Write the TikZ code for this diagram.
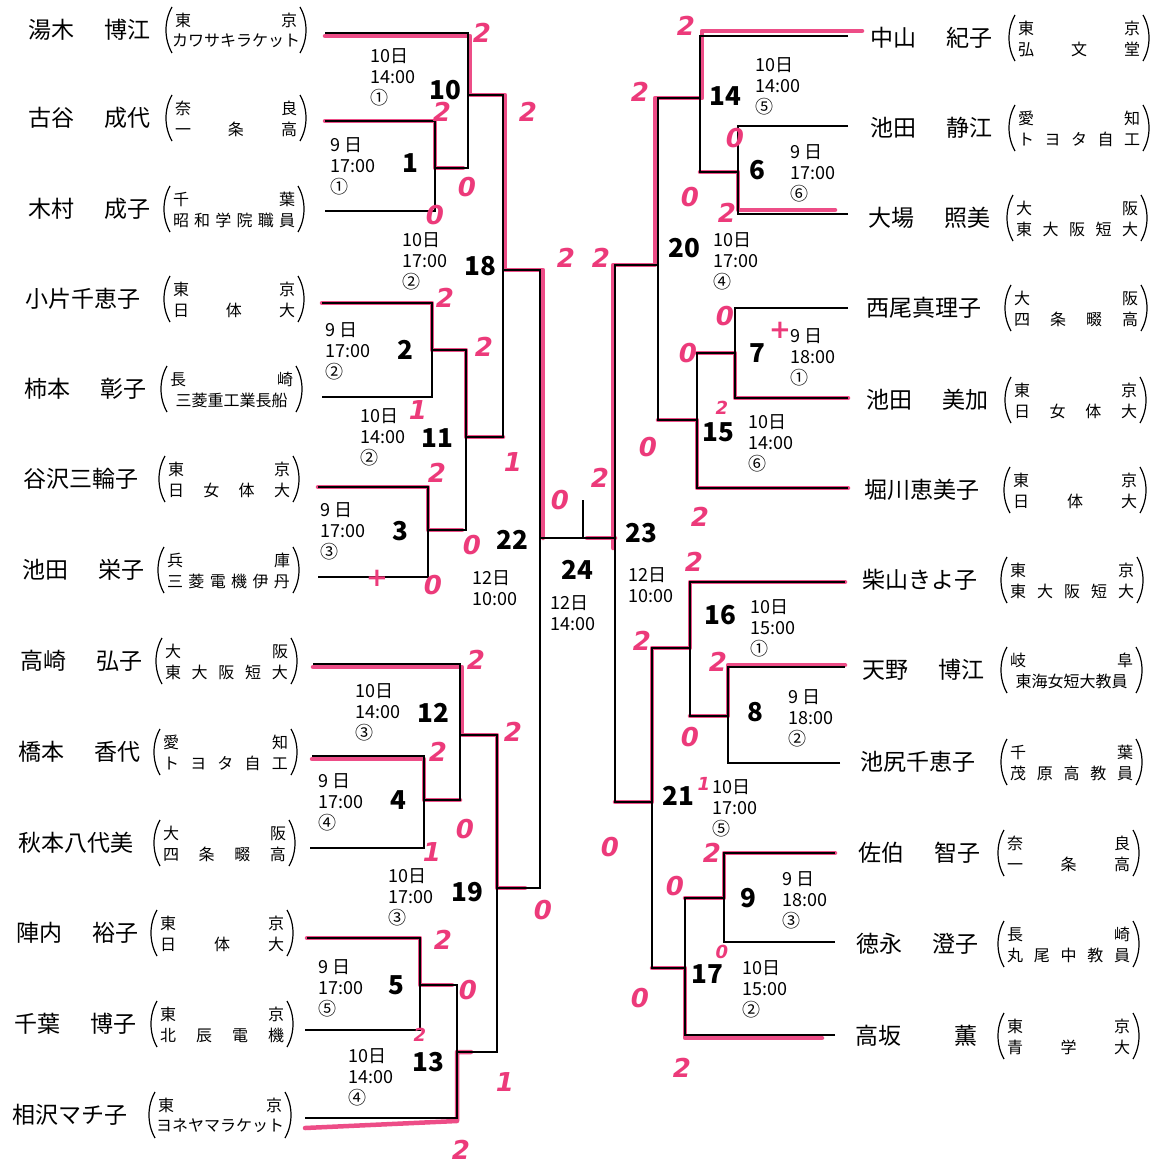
\documentclass[tikz,border=0pt]{standalone}
\usepackage{fontspec}
\setmainfont{Noto Sans CJK JP}
\newfontfamily\handfont{DejaVu Sans}
\usetikzlibrary{calc}
\definecolor{mk}{RGB}{236,58,122}
\newcommand{\mkaff}[7]{%
  \pgfmathsetmacro{\affw}{#3-#2-20}%
  \draw[paren] ({#2+7},{#4-23}) .. controls ({#2-1},{#4-9}) and ({#2-1},{#4+9}) .. ({#2+7},{#4+23});
  \draw[paren] ({#3-7},{#4-23}) .. controls ({#3+1},{#4-9}) and ({#3+1},{#4+9}) .. ({#3-7},{#4+23});
  \node[aff] (#1a) at ({(#2+#3)/2},{#4-10}) {\makebox[\affw pt]{#5\hfill #6}};
  \node[aff] (#1b) at ({(#2+#3)/2},{#4+11}) {\makebox[\affw pt]{#7}};
}
\begin{document}
\begin{tikzpicture}[x=1pt,y=-1pt,
  wire/.style={line width=1.5pt, black},
  pk/.style={line width=4.5pt, mk, opacity=0.9, line join=round, line cap=round},
  paren/.style={line width=1.2pt, black},
  nm/.style={font=\fontsize{23}{23}\selectfont, anchor=west, inner sep=0},
  aff/.style={font=\fontsize{16}{16}\selectfont, inner sep=0},
  tm/.style={font=\fontsize{18}{21}\selectfont, align=left, anchor=west, inner sep=0},
  num/.style={font=\fontsize{26}{26}\selectfont\bfseries, inner sep=0},
  hd/.style={text=mk, font=\handfont\bfseries\itshape\fontsize{26}{26}\selectfont, inner sep=0},
  hds/.style={hd, font=\handfont\bfseries\itshape\fontsize{18}{18}\selectfont}]
\useasboundingbox (0,0) rectangle (1154,1169);
\fill[white] (0,0) rectangle (1154,1169);

% ---------- coordinates: player line starts ----------
\coordinate (pL1) at (325,33);
\coordinate (pL2) at (325,121);
\coordinate (pL3) at (325,211);
\coordinate (pL4) at (322,303);
\coordinate (pL5) at (322,397);
\coordinate (pL6) at (318,487);
\coordinate (pL7) at (318,577);
\coordinate (pL8) at (313,664);
\coordinate (pL9) at (312,756);
\coordinate (pL10) at (310,848);
\coordinate (pL11) at (307,938);
\coordinate (pL12) at (305,1030);
\coordinate (pL13) at (305,1118);
\coordinate (pR1) at (848,36);
\coordinate (pR2) at (848,126);
\coordinate (pR3) at (848,214);
\coordinate (pR4) at (848,308);
\coordinate (pR5) at (848,398);
\coordinate (pR6) at (848,488);
\coordinate (pR7) at (845,582);
\coordinate (pR8) at (845,667);
\coordinate (pR9) at (840,763);
\coordinate (pR10) at (835,853);
\coordinate (pR11) at (835,942);
\coordinate (pR12) at (835,1035);
% ---------- match junctions ----------
\coordinate (m1) at (435,168);
\coordinate (m10) at (468,95);
\coordinate (m2) at (432,350);
\coordinate (m3) at (428,530);
\coordinate (m11) at (466,437);
\coordinate (m18) at (503,270);
\coordinate (m4) at (424,800);
\coordinate (m12) at (460,735);
\coordinate (m5) at (420,985);
\coordinate (m13) at (457,1052);
\coordinate (m19) at (497,888);
\coordinate (m22) at (540,538);
\coordinate (m6) at (738,172);
\coordinate (m14) at (700,98);
\coordinate (m7) at (735,353);
\coordinate (m15) at (697,420);
\coordinate (m20) at (658,265);
\coordinate (m8) at (728,716);
\coordinate (m16) at (690,648);
\coordinate (m9) at (724,898);
\coordinate (m17) at (685,968);
\coordinate (m21) at (652,802);
\coordinate (m23) at (615,538);
\coordinate (tk) at (583,500);

% ---------- pink marker paths ----------
\draw[pk] ([yshift=-3pt]pL1) -| ([xshift=2pt]m10) -| ([xshift=2pt]m18) -| ([xshift=3pt]m22);
\draw[pk] (pL2) -| (m1) -- ++(28,0);
\draw[pk] (pL4) -| (m2) -| (m11) -- (m11 -| m18);
\draw[pk] (pL6) -| (m3) -- ++(34,0);
\draw[pk] ([yshift=-3pt]pL8) -| ([xshift=2pt]m12) -| (m19) -- ++(28,0);
\draw[pk] ([yshift=-3pt]pL9) -| (m4) -- (m4 -| m12);
\draw[pk] (pL11) -| (m5) -- ++(32,0);
\draw[pk] ([yshift=-10pt]pL13) -- ([yshift=-3pt]pL13 -| m13) -- (m13) -- ++(14,0);
\draw[pk] ([xshift=14pt,yshift=5pt]pR1) -| ([xshift=2pt]m14) -| ([xshift=-3pt]m20) -| ([xshift=-2pt]m23) -- ++(0,10);
\draw[pk] (m23) -- ++(-28,0);
\draw[pk] ([xshift=-13pt,yshift=4pt]pR3) -| (m6) -- (m6 -| m14);
\draw[pk] (pR5) -| (m7) -- (m7 -| m15);
\draw[pk] (pR6) -| (m15) -- (m15 -| m20);
\draw[pk] (pR7) -| (m16) -| (m21) -- (m21 -| m23);
\draw[pk] ([yshift=2pt]pR8) -| (m8) -- (m8 -| m16);
\draw[pk] (pR10) -| (m9) -- (m9 -| m17);
\draw[pk] ([xshift=-13pt,yshift=-3pt]pR12) -| (m17) -- (m17 -| m21);

% ---------- black bracket ----------
\draw[wire] (pL1) -| (m10);
\draw[wire] (m1) -| (m10);
\draw[wire] (pL2) -| (m1);
\draw[wire] (pL3) -| (m1);
\draw[wire] (m10) -| (m18);
\draw[wire] (m11) -| (m18);
\draw[wire] (pL4) -| (m2);
\draw[wire] (pL5) -| (m2);
\draw[wire] (pL6) -| (m3);
\draw[wire] (pL7) -| (m3);
\draw[wire] (m2) -| (m11);
\draw[wire] (m3) -| (m11);
\draw[wire] (m18) -| (m22);
\draw[wire] (m19) -| (m22);
\draw[wire] (pL8) -| (m12);
\draw[wire] (m4) -| (m12);
\draw[wire] (pL9) -| (m4);
\draw[wire] (pL10) -| (m4);
\draw[wire] (m12) -| (m19);
\draw[wire] (m13) -| (m19);
\draw[wire] (pL11) -| (m5);
\draw[wire] (pL12) -| (m5);
\draw[wire] (m5) -| (m13);
\draw[wire] (pL13) -| (m13);
\draw[wire] (m22) -- (m23);
\draw[wire] (tk) -- (tk |- m22);
\draw[wire] (pR1) -| (m14);
\draw[wire] (m6) -| (m14);
\draw[wire] (pR2) -| (m6);
\draw[wire] (pR3) -| (m6);
\draw[wire] (m14) -| (m20);
\draw[wire] (m15) -| (m20);
\draw[wire] (pR4) -| (m7);
\draw[wire] (pR5) -| (m7);
\draw[wire] (m7) -| (m15);
\draw[wire] (pR6) -| (m15);
\draw[wire] (m20) -| (m23);
\draw[wire] (m21) -| (m23);
\draw[wire] (pR7) -| (m16);
\draw[wire] (m8) -| (m16);
\draw[wire] (pR8) -| (m8);
\draw[wire] (pR9) -| (m8);
\draw[wire] (m16) -| (m21);
\draw[wire] (m17) -| (m21);
\draw[wire] (pR10) -| (m9);
\draw[wire] (pR11) -| (m9);
\draw[wire] (m9) -| (m17);
\draw[wire] (pR12) -| (m17);

% ---------- left names ----------
\node[nm] (nL1) at (28,30) {\makebox[122pt][l]{湯木\hfill 博江}};
\node[nm] (nL2) at (28,118) {\makebox[122pt][l]{古谷\hfill 成代}};
\node[nm] (nL3) at (28,209) {\makebox[122pt][l]{木村\hfill 成子}};
\node[nm] (nL4) at (25,299) {\makebox[122pt][l]{小片千恵子}};
\node[nm] (nL5) at (24,389) {\makebox[122pt][l]{柿本\hfill 彰子}};
\node[nm] (nL6) at (23,479) {\makebox[122pt][l]{谷沢三輪子}};
\node[nm] (nL7) at (22,570) {\makebox[122pt][l]{池田\hfill 栄子}};
\node[nm] (nL8) at (20,661) {\makebox[122pt][l]{高崎\hfill 弘子}};
\node[nm] (nL9) at (18,752) {\makebox[122pt][l]{橋本\hfill 香代}};
\node[nm] (nL10) at (18,843) {\makebox[122pt][l]{秋本八代美}};
\node[nm] (nL11) at (16,933) {\makebox[122pt][l]{陣内\hfill 裕子}};
\node[nm] (nL12) at (14,1024) {\makebox[122pt][l]{千葉\hfill 博子}};
\node[nm] (nL13) at (12,1115) {\makebox[122pt][l]{相沢マチ子}};
% ---------- left affiliations ----------
\mkaff{fL1}{165}{307}{30}{東}{京}{カワサキラケット}
\mkaff{fL2}{165}{307}{118}{奈}{良}{一\hfill 条\hfill 高}
\mkaff{fL3}{163}{305}{209}{千}{葉}{昭\hfill 和\hfill 学\hfill 院\hfill 職\hfill 員}
\mkaff{fL4}{163}{305}{299}{東}{京}{日\hfill 体\hfill 大}
\mkaff{fL5}{160}{303}{389}{長}{崎}{三菱重工業長船}
\mkaff{fL6}{158}{300}{479}{東}{京}{日\hfill 女\hfill 体\hfill 大}
\mkaff{fL7}{157}{300}{570}{兵}{庫}{三\hfill 菱\hfill 電\hfill 機\hfill 伊\hfill 丹}
\mkaff{fL8}{155}{298}{661}{大}{阪}{東\hfill 大\hfill 阪\hfill 短\hfill 大}
\mkaff{fL9}{153}{298}{752}{愛}{知}{ト\hfill ヨ\hfill タ\hfill 自\hfill 工}
\mkaff{fL10}{153}{296}{843}{大}{阪}{四\hfill 条\hfill 畷\hfill 高}
\mkaff{fL11}{150}{294}{933}{東}{京}{日\hfill 体\hfill 大}
\mkaff{fL12}{150}{294}{1024}{東}{京}{北\hfill 辰\hfill 電\hfill 機}
\mkaff{fL13}{148}{292}{1115}{東}{京}{ヨネヤマラケット}
% ---------- right names ----------
\node[nm] (nR1) at (870,38) {\makebox[122pt][l]{中山\hfill 紀子}};
\node[nm] (nR2) at (870,128) {\makebox[122pt][l]{池田\hfill 静江}};
\node[nm] (nR3) at (868,218) {\makebox[122pt][l]{大場\hfill 照美}};
\node[nm] (nR4) at (866,308) {\makebox[122pt][l]{西尾真理子}};
\node[nm] (nR5) at (866,400) {\makebox[122pt][l]{池田\hfill 美加}};
\node[nm] (nR6) at (864,490) {\makebox[122pt][l]{堀川恵美子}};
\node[nm] (nR7) at (862,580) {\makebox[122pt][l]{柴山きよ子}};
\node[nm] (nR8) at (862,670) {\makebox[122pt][l]{天野\hfill 博江}};
\node[nm] (nR9) at (860,762) {\makebox[122pt][l]{池尻千恵子}};
\node[nm] (nR10) at (858,853) {\makebox[122pt][l]{佐伯\hfill 智子}};
\node[nm] (nR11) at (856,944) {\makebox[122pt][l]{徳永\hfill 澄子}};
\node[nm] (nR12) at (855,1036) {\makebox[122pt][l]{高坂\hfill 薫}};
% ---------- right affiliations ----------
\mkaff{fR1}{1008}{1150}{38}{東}{京}{弘\hfill 文\hfill 堂}
\mkaff{fR2}{1008}{1150}{128}{愛}{知}{ト\hfill ヨ\hfill タ\hfill 自\hfill 工}
\mkaff{fR3}{1006}{1148}{218}{大}{阪}{東\hfill 大\hfill 阪\hfill 短\hfill 大}
\mkaff{fR4}{1004}{1148}{308}{大}{阪}{四\hfill 条\hfill 畷\hfill 高}
\mkaff{fR5}{1004}{1147}{400}{東}{京}{日\hfill 女\hfill 体\hfill 大}
\mkaff{fR6}{1003}{1147}{490}{東}{京}{日\hfill 体\hfill 大}
\mkaff{fR7}{1000}{1144}{580}{東}{京}{東\hfill 大\hfill 阪\hfill 短\hfill 大}
\mkaff{fR8}{1000}{1143}{670}{岐}{阜}{東海女短大教員}
\mkaff{fR9}{1000}{1143}{762}{千}{葉}{茂\hfill 原\hfill 高\hfill 教\hfill 員}
\mkaff{fR10}{997}{1140}{853}{奈}{良}{一\hfill 条\hfill 高}
\mkaff{fR11}{997}{1140}{944}{長}{崎}{丸\hfill 尾\hfill 中\hfill 教\hfill 員}
\mkaff{fR12}{997}{1140}{1036}{東}{京}{青\hfill 学\hfill 大}

% ---------- match numbers ----------
\node[num] (n10) at (445,90) {10};
\node[num] (n1) at (410,163) {1};
\node[num] (n18) at (480,266) {18};
\node[num] (n2) at (405,350) {2};
\node[num] (n11) at (437,438) {11};
\node[num] (n3) at (400,531) {3};
\node[num] (n22) at (512,540) {22};
\node[num] (n12) at (433,713) {12};
\node[num] (n4) at (398,800) {4};
\node[num] (n19) at (467,892) {19};
\node[num] (n5) at (396,985) {5};
\node[num] (n13) at (428,1062) {13};
\node[num] (n24) at (577,570) {24};
\node[num] (n14) at (725,96) {14};
\node[num] (n6) at (757,170) {6};
\node[num] (n20) at (684,248) {20};
\node[num] (n7) at (757,353) {7};
\node[num] (n15) at (718,432) {15};
\node[num] (n23) at (641,533) {23};
\node[num] (n16) at (720,615) {16};
\node[num] (n8) at (755,712) {8};
\node[num] (n21) at (678,796) {21};
\node[num] (n9) at (748,898) {9};
\node[num] (n17) at (707,974) {17};

% ---------- times ----------
\node[tm] (t10) at (370,77) {10日\\14:00\\①};
\node[tm] (t1) at (330,166) {9 日\\17:00\\①};
\node[tm] (t18) at (402,261) {10日\\17:00\\②};
\node[tm] (t2) at (325,351) {9 日\\17:00\\②};
\node[tm] (t11) at (360,437) {10日\\14:00\\②};
\node[tm] (t3) at (320,531) {9 日\\17:00\\③};
\node[tm] (t22) at (472,588) {12日\\10:00};
\node[tm] (t24) at (550,613) {12日\\14:00};
\node[tm] (t12) at (355,712) {10日\\14:00\\③};
\node[tm] (t4) at (318,802) {9 日\\17:00\\④};
\node[tm] (t19) at (388,897) {10日\\17:00\\③};
\node[tm] (t5) at (318,988) {9 日\\17:00\\⑤};
\node[tm] (t13) at (348,1077) {10日\\14:00\\④};
\node[tm] (t14) at (755,86) {10日\\14:00\\⑤};
\node[tm] (t6) at (790,173) {9 日\\17:00\\⑥};
\node[tm] (t20) at (713,261) {10日\\17:00\\④};
\node[tm] (t7) at (790,357) {9 日\\18:00\\①};
\node[tm] (t15) at (748,443) {10日\\14:00\\⑥};
\node[tm] (t23) at (628,585) {12日\\10:00};
\node[tm] (t16) at (750,628) {10日\\15:00\\①};
\node[tm] (t8) at (788,718) {9 日\\18:00\\②};
\node[tm] (t21) at (712,808) {10日\\17:00\\⑤};
\node[tm] (t9) at (782,900) {9 日\\18:00\\③};
\node[tm] (t17) at (742,989) {10日\\15:00\\②};

% ---------- handwritten scores ----------
\node[hd] (h1) at (482,33) {2};
\node[hd] (h2) at (528,112) {2};
\node[hd] (h3) at (442,112) {2};
\node[hd] (h4) at (467,187) {0};
\node[hd] (h5) at (435,215) {0};
\node[hd] (h6) at (445,298) {2};
\node[hd] (h7) at (484,347) {2};
\node[hd] (h8) at (418,410) {1};
\node[hd] (h9) at (513,462) {1};
\node[hd] (h10) at (437,473) {2};
\node[hd] (h11) at (472,545) {0};
\node[hd] (h12) at (377,578) {+};
\node[hd] (h13) at (433,585) {0};
\node[hd] (h14) at (566,258) {2};
\node[hd] (h15) at (601,258) {2};
\node[hd] (h16) at (560,500) {0};
\node[hd] (h17) at (600,478) {2};
\node[hd] (h18) at (476,660) {2};
\node[hd] (h19) at (513,732) {2};
\node[hd] (h20) at (438,752) {2};
\node[hd] (h21) at (465,829) {0};
\node[hd] (h22) at (432,852) {1};
\node[hd] (h23) at (543,910) {0};
\node[hd] (h24) at (443,940) {2};
\node[hd] (h25) at (468,990) {0};
\node[hds] (h26) at (420,1035) {2};
\node[hd] (h27) at (505,1082) {1};
\node[hd] (h28) at (461,1150) {2};
\node[hd] (h29) at (686,26) {2};
\node[hd] (h30) at (640,92) {2};
\node[hd] (h31) at (735,138) {0};
\node[hd] (h32) at (690,197) {0};
\node[hd] (h33) at (727,213) {2};
\node[hd] (h34) at (725,316) {0};
\node[hd] (h35) at (780,330) {+};
\node[hd] (h36) at (688,353) {0};
\node[hds] (h37) at (722,408) {2};
\node[hd] (h38) at (648,447) {0};
\node[hd] (h39) at (700,517) {2};
\node[hd] (h40) at (694,562) {2};
\node[hd] (h41) at (642,641) {2};
\node[hd] (h42) at (718,662) {2};
\node[hd] (h43) at (690,737) {0};
\node[hds] (h44) at (704,784) {1};
\node[hd] (h45) at (610,847) {0};
\node[hd] (h46) at (712,853) {2};
\node[hd] (h47) at (675,886) {0};
\node[hds] (h48) at (722,952) {0};
\node[hd] (h49) at (640,998) {0};
\node[hd] (h50) at (682,1068) {2};
\end{tikzpicture}
\end{document}
